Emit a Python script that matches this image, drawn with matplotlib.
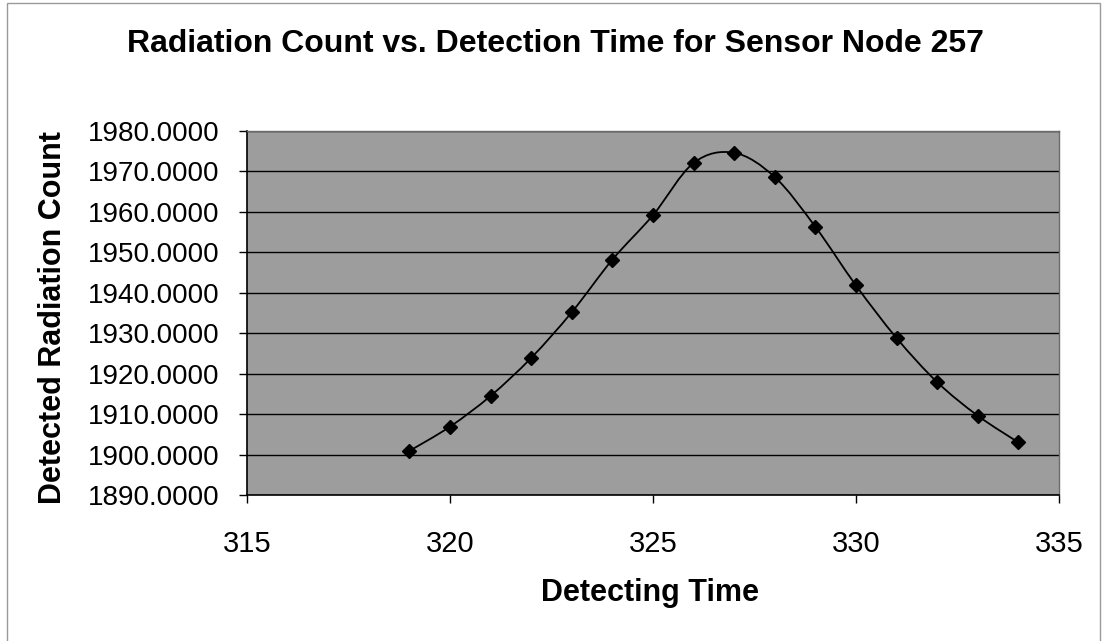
import numpy as np
import matplotlib
matplotlib.use("Agg")
import matplotlib.pyplot as plt
from matplotlib.path import Path
from matplotlib.patches import PathPatch, Rectangle

# detecting time and radiation counts for sensor node 257
detect_time = [319, 320, 321, 322, 323, 324, 325, 326, 327, 328, 329, 330, 331, 332, 333, 334]
radiation_count = [1900.9, 1906.9, 1914.5, 1923.9, 1935.2, 1948.2, 1959.2, 1972.1,
                   1974.6, 1968.6, 1956.3, 1941.8, 1928.8, 1917.9, 1909.6, 1903.0]
y_ticks = [1890, 1900, 1910, 1920, 1930, 1940, 1950, 1960, 1970, 1980]
x_ticks = [315, 320, 325, 330, 335]

plt.rcParams['font.family'] = ['Liberation Sans', 'DejaVu Sans']

fig = plt.figure(figsize=(11.05, 6.41), dpi=100)
ax = fig.add_axes([247 / 1105, 1 - 495 / 641, (1059 - 247) / 1105, (495 - 131) / 641])
ax.set_facecolor('#9d9d9d')

# smoothed line like a spreadsheet "smoothed line" chart (cubic bezier segments)
pts = np.column_stack([detect_time, radiation_count]).astype(float)
n = len(pts)
verts = [pts[0]]
codes = [Path.MOVETO]
for i in range(n - 1):
    p0 = pts[i - 1] if i > 0 else pts[i]
    p1 = pts[i]
    p2 = pts[i + 1]
    p3 = pts[i + 2] if i + 2 < n else pts[i + 1]
    c1 = p1 + (p2 - p0) / 6.0
    c2 = p2 - (p3 - p1) / 6.0
    verts += [c1, c2, p2]
    codes += [Path.CURVE4] * 3
ax.add_patch(PathPatch(Path(verts, codes), facecolor='none', edgecolor='black', lw=1.3, zorder=3))
ax.plot(detect_time, radiation_count, linestyle='none', marker='D', markersize=7,
        color='black', zorder=4)

ax.set_xlim(315, 335)
ax.set_ylim(1890, 1980)
ax.set_xticks(x_ticks)
ax.set_yticks(y_ticks)
ax.set_yticklabels([f"{v:.4f}" for v in y_ticks])
ax.grid(axis='y', color='black', lw=1.0)
ax.set_axisbelow(True)
ax.tick_params(axis='both', direction='out', length=6, width=1, color='black')
ax.tick_params(axis='y', pad=14, labelsize=20)
ax.tick_params(axis='x', pad=19, labelsize=21)

for side in ['left', 'bottom']:
    ax.spines[side].set_color('black')
    ax.spines[side].set_linewidth(1.2)
for side in ['top', 'right']:
    ax.spines[side].set_color('#6a6a6a')
    ax.spines[side].set_linewidth(1.0)

fig.text(555 / 1105, 1 - 44 / 641, 'Radiation Count vs. Detection Time for Sensor Node 257',
         ha='center', va='center', fontsize=23, fontweight='bold')
fig.text(650 / 1105, 1 - 593 / 641, 'Detecting Time',
         ha='center', va='center', fontsize=22, fontweight='bold')
fig.text(53 / 1105, 1 - 318 / 641, 'Detected Radiation Count',
         ha='center', va='center', rotation=90, fontsize=22, fontweight='bold')

# thin border around the chart
fig.patches.append(Rectangle((7 / 1105, -0.02), (1100 - 7) / 1105, 1 - 3 / 641 + 0.02,
                             transform=fig.transFigure, fill=False, edgecolor='#9a9a9a', lw=1.0))

fig.savefig('out.png', dpi=100)
